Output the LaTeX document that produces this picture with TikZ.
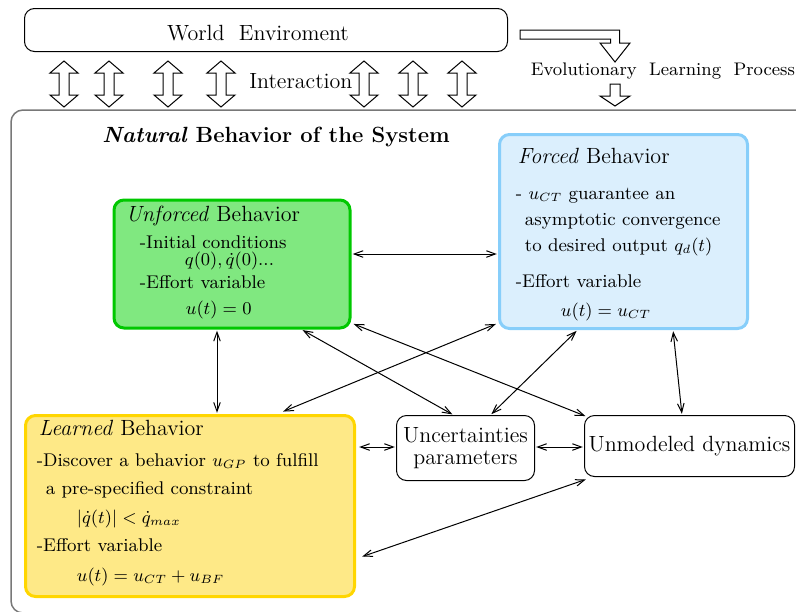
\documentclass[tikz,border=0pt]{standalone}
\usetikzlibrary{arrows.meta,calc}

\definecolor{unfFill}{RGB}{128,232,128}
\definecolor{unfLine}{RGB}{0,200,0}
\definecolor{forFill}{RGB}{219,239,253}
\definecolor{forLine}{RGB}{135,206,250}
\definecolor{lrnFill}{RGB}{254,233,135}
\definecolor{lrnLine}{RGB}{255,214,0}
\definecolor{frameGray}{RGB}{120,120,120}

\tikzset{
  titlefont/.style={font=\fontsize{11}{13}\selectfont},
  itemfont/.style={font=\fontsize{9.2}{11}\selectfont},
  behbox/.style={draw, rounded corners=5pt, line width=1.5pt, inner sep=0pt},
  plainbox/.style={draw, rounded corners=5pt, line width=0.5pt, fill=white,
    align=center, font=\fontsize{11}{11.2}\selectfont, inner sep=0pt},
  conn/.style={<->, line width=0.5pt, shorten <=0.6pt, shorten >=0.6pt,
    >={Straight Barb[angle'=40,length=4.5pt]}},
  hollow/.style={draw, fill=white, line width=0.5pt, line join=miter},
  txt/.style={anchor=base west, inner sep=0pt},
}

\begin{document}
\begin{tikzpicture}[x=0.5pt, y=-0.5pt]
\path[use as bounding box] (0,0) rectangle (796,611);
\clip (0,0) rectangle (796,611);

% frame around the system
\draw[frameGray, line width=0.75pt, rounded corners=6pt] (11,110) rectangle (830,613);

% environment
\node[plainbox, minimum width=241.5pt, minimum height=21.5pt] (world) at (266,30) {};
\node[titlefont, anchor=base, inner sep=0pt] (worldtxt) at ($(world.center)+(-8,10)$) {World~~Enviroment};

% interaction arrows
\foreach \cx in {64,109,168,221,364,413,462}{
  \draw[hollow] (\cx,61) -- (\cx+14,73) -- (\cx+5,73) -- (\cx+5,95) -- (\cx+14,95)
    -- (\cx,107) -- (\cx-14,95) -- (\cx-5,95) -- (\cx-5,73) -- (\cx-14,73) -- cycle;
}
\node[txt, titlefont] (inter) at (249,88) {Interaction};

% evolutionary learning process
\draw[hollow] (520,30) -- (619.5,30) -- (619.5,43) -- (630,43) -- (615,62) -- (600,43)
  -- (610.5,43) -- (610.5,39) -- (520,39) -- cycle;
\node[txt, font=\fontsize{9.1}{11}\selectfont] (evo) at (530.5,75.5) {Evolutionary~~Learning~~Process};
\draw[hollow] (610,84) -- (620,84) -- (620,96) -- (630,96) -- (615,106) -- (600,96) -- (610,96) -- cycle;

% title
\node[txt, titlefont] (nattitle) at (102,142.5) {\textbf{\textit{Natural} Behavior of the System}};

% behaviour boxes
\node[behbox, draw=unfLine, fill=unfFill, minimum width=118pt, minimum height=64pt] (unf) at (232,264) {};
\node[behbox, draw=forLine, fill=forFill, minimum width=124pt, minimum height=97pt] (forc) at (623.5,231.5) {};
\node[behbox, draw=lrnLine, fill=lrnFill, minimum width=164.5pt, minimum height=90.5pt] (lrn) at (190,506) {};
\node[plainbox, minimum width=69pt, minimum height=32.5pt] (unc) at (465.5,448) {Uncertainties\\parameters};
\node[plainbox, minimum width=105pt, minimum height=30.5pt] (unmod) at (689.5,446) {Unmodeled dynamics};

% unforced behaviour text
\node[txt, titlefont] (unf-a) at ($(unf.north west)+(13,23)$) {\textit{Unforced} Behavior};
\node[txt, itemfont] (unf-b) at ($(unf.north west)+(27,50)$) {-Initial conditions};
\node[txt, itemfont] (unf-c) at ($(unf.north west)+(72,67)$) {$q(0),\dot{q}(0)$...};
\node[txt, itemfont] (unf-d) at ($(unf.north west)+(27,90)$) {-Effort variable};
\node[txt, itemfont] (unf-e) at ($(unf.north west)+(73,116)$) {$u(t)=0$};

% forced behaviour text
\node[txt, titlefont] (for-a) at ($(forc.north west)+(19.5,30.5)$) {\textit{Forced} Behavior};
\node[txt, itemfont] (for-b) at ($(forc.north west)+(17.5,66)$) {- $u_{CT}$ guarantee an};
\node[txt, itemfont] (for-c) at ($(forc.north west)+(26.5,92)$) {asymptotic convergence};
\node[txt, itemfont] (for-d) at ($(forc.north west)+(26.5,118.5)$) {to desired output $q_d(t)$};
\node[txt, itemfont] (for-e) at ($(forc.north west)+(17.5,154.5)$) {-Effort variable};
\node[txt, itemfont] (for-f) at ($(forc.north west)+(62.5,183.5)$) {$u(t)=u_{CT}$};

% learned behaviour text
\node[txt, titlefont] (lrn-a) at ($(lrn.north west)+(14.5,21.5)$) {\textit{Learned} Behavior};
\node[txt, itemfont] (lrn-b) at ($(lrn.north west)+(12.5,52.5)$) {-Discover a behavior $u_{GP}$ to fulfill};
\node[txt, itemfont] (lrn-c) at ($(lrn.north west)+(21.5,80.5)$) {a pre-specified constraint};
\node[txt, itemfont] (lrn-d) at ($(lrn.north west)+(52.5,109.5)$) {$|\dot{q}(t)|<\dot{q}_{max}$};
\node[txt, itemfont] (lrn-e) at ($(lrn.north west)+(12.5,137.5)$) {-Effort variable};
\node[txt, itemfont] (lrn-f) at ($(lrn.north west)+(52.5,167.5)$) {$u(t)=u_{CT}+u_{BF}$};

% relations between behaviours
\coordinate (c1) at ($(unf.east)+(0,-10)$);
\draw[conn] (c1) -- (c1 -| forc.west);
\coordinate (c2) at ($(unf.south)+(-15,0)$);
\draw[conn] (c2) -- (c2 |- lrn.north);
\draw[conn] ($(unf.south east)+(-50,0)$) -- ($(unc.north)+(-12,0)$);
\draw[conn] ($(unf.south east)+(1,-6)$) -- ($(unmod.north west)+(2.5,1.5)$);
\draw[conn] ($(forc.south west)+(-1,-6.5)$) -- ($(lrn.north)+(92,-2)$);
\draw[conn] ($(forc.south)+(-46,0)$) -- ($(unc.north)+(25,0)$);
\draw[conn] ($(forc.south)+(49.5,0)$) -- ($(unmod.north)+(-7.5,0)$);
\coordinate (c8) at ($(lrn.east)+(2,-59)$);
\draw[conn] (c8) -- (c8 -| unc.west);
\coordinate (c9) at ($(unc.east)+(0,-1)$);
\draw[conn] (c9) -- (c9 -| unmod.west);
\draw[conn] ($(lrn.east)+(5,51)$) -- ($(unmod.south west)+(3,2)$);
\end{tikzpicture}
\end{document}
